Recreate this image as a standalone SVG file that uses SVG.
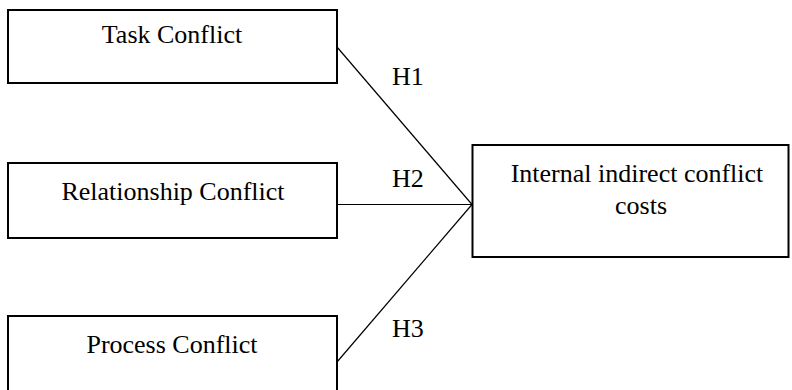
<svg xmlns="http://www.w3.org/2000/svg" width="792" height="390" viewBox="0 0 792 390">
  <style>
    .box { fill: #ffffff; stroke: #000000; stroke-width: 2; }
    .link { fill: none; stroke: #000000; stroke-width: 1.2; }
    .label { font-family: "Liberation Serif", "Times New Roman", serif; font-size: 26px; fill: #000000; }
    .mid { text-anchor: middle; }
  </style>
  <rect width="792" height="390" fill="#ffffff"/>

  <!-- connectors converging on the outcome box -->
  <g id="connectors">
    <line class="link" x1="337" y1="47" x2="472" y2="204.5"/>
    <line class="link" x1="337" y1="204.5" x2="472" y2="204.5"/>
    <line class="link" x1="337" y1="362" x2="472" y2="204.5"/>
    <text class="label" x="392" y="85">H1</text>
    <text class="label" x="392" y="187">H2</text>
    <text class="label" x="392" y="337">H3</text>
  </g>

  <g id="task-conflict">
    <rect class="box" x="8" y="10" width="329" height="73"/>
    <text class="label mid" x="172" y="43">Task Conflict</text>
  </g>

  <g id="relationship-conflict">
    <rect class="box" x="8" y="163" width="329" height="75"/>
    <text class="label mid" x="173" y="200">Relationship Conflict</text>
  </g>

  <g id="process-conflict">
    <rect class="box" x="8" y="316" width="329" height="80"/>
    <text class="label mid" x="172" y="353">Process Conflict</text>
  </g>

  <g id="internal-costs">
    <rect class="box" x="472.5" y="145" width="316" height="112"/>
    <text class="label mid" x="637" y="182">Internal indirect conflict</text>
    <text class="label mid" x="641" y="214">costs</text>
  </g>
</svg>
